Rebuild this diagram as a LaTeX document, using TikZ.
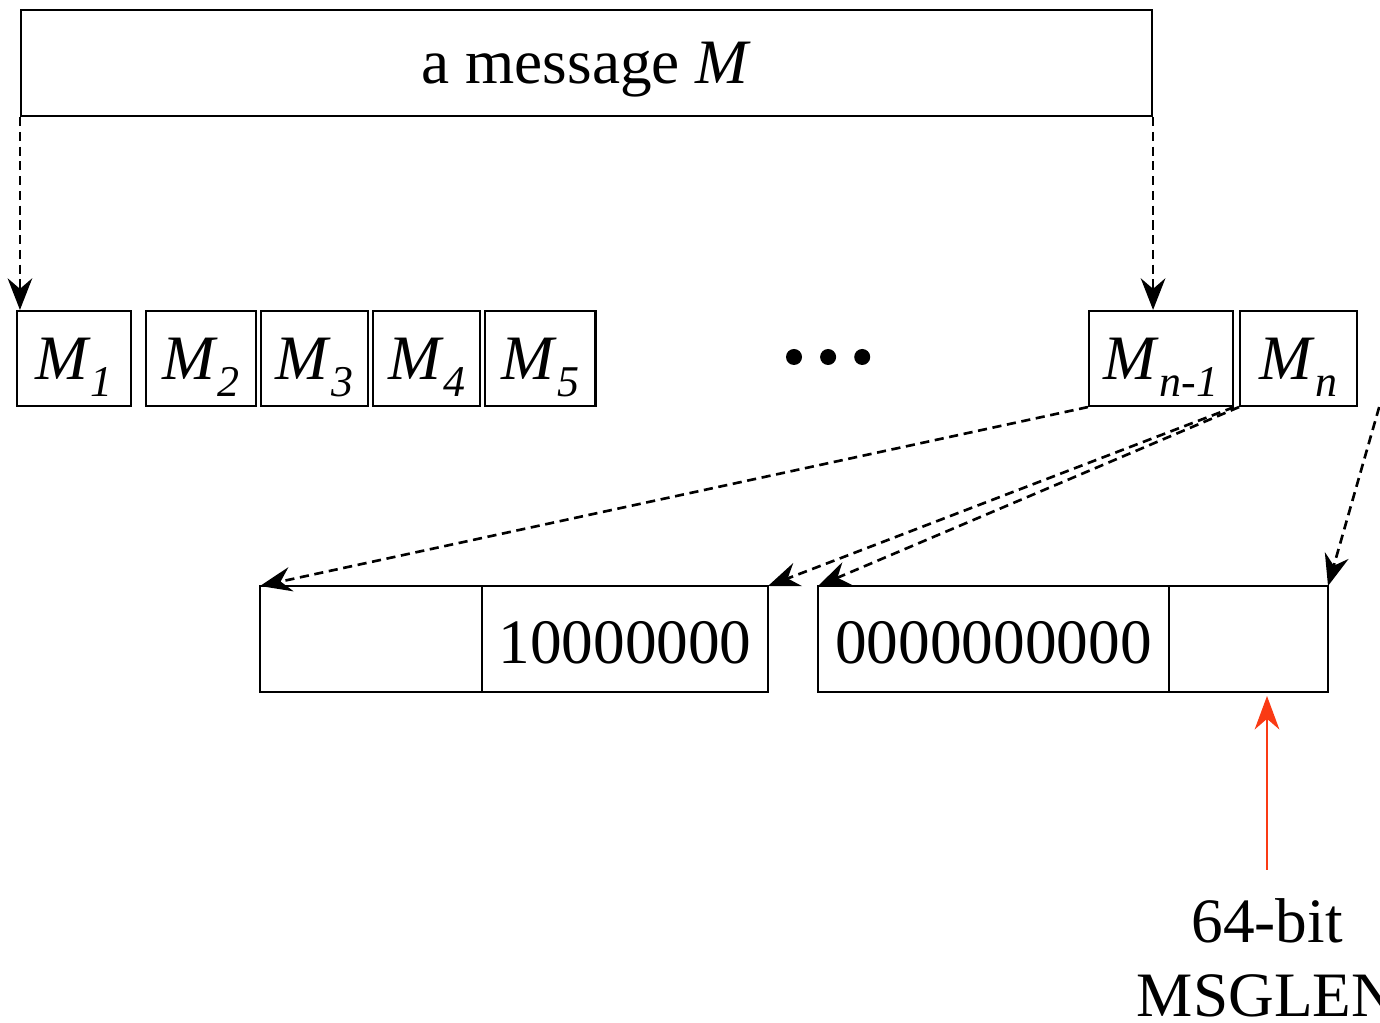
\documentclass[tikz,border=0pt]{standalone}
\usepackage{fontspec}
\setmainfont{Liberation Serif}
\usetikzlibrary{positioning, arrows.meta}
\definecolor{lenred}{RGB}{250,58,20}
\newcommand\Mpart[1]{\textit{M}\raisebox{-0.28em}{\fontsize{12.5}{12.5}\selectfont\itshape #1}}

\begin{document}
\begin{tikzpicture}[font=\fontsize{18}{21}\selectfont, line width=0.6pt]
        \tikzstyle{block} = [rectangle, draw, inner sep=0pt, text depth=0pt]
        \tikzstyle{mbox} = [block, minimum height=0.95cm]
        \tikzstyle{bbox} = [block, minimum height=1.06cm, outer sep=0pt, text height=0.5cm]
        \tikzstyle{dot} = [circle, fill, inner sep=0pt, minimum size=1.6mm]
        \tikzstyle{line} = [line width=0.75pt, dash pattern=on 2.6pt off 1.6pt, -{Stealth[length=9pt, width=7pt, inset=3pt]}]
        \tikzstyle{lenline} = [lenred, line width=0.75pt, -{Stealth[length=9.5pt, width=7pt, inset=3pt]}]
        \useasboundingbox (0,0) rectangle (13.8,-10.23);

        \node (msg) [block, minimum width=11.31cm, minimum height=1.06cm] at (5.865,-0.63) {a message \textit{M}};
        \node (M1) [mbox, minimum width=1.14cm] at (0.74,-3.585) {\Mpart{1}};
        \node [right=1.3mm of M1] (M2) [mbox, minimum width=1.10cm] {\Mpart{2}};
        \node [right=0.3mm of M2] (M3) [mbox, minimum width=1.07cm] {\Mpart{3}};
        \node [right=0.3mm of M3] (M4) [mbox, minimum width=1.07cm] {\Mpart{4}};
        \node [right=0.3mm of M4] (M5) [mbox, minimum width=1.10cm] {\Mpart{5}};
        \node (dot1) [dot] at (7.94,-3.57) {};
        \node [right=1.6mm of dot1] (dot2) [dot] {};
        \node [right=1.6mm of dot2] (dot3) [dot] {};
        \node (Mnm) [mbox, minimum width=1.44cm] at (11.61,-3.585) {\Mpart{n-1}};
        \node [right=0.5mm of Mnm] (Mn) [mbox, minimum width=1.17cm] {\Mpart{n}};
        \coordinate [right=2.1mm of Mn.south east] (side);

        \node (pad) [bbox, minimum width=2.22cm] at (3.71,-6.39) {};
        \node [right=0pt of pad] (one) [bbox, minimum width=2.86cm] {10000000};
        \node [right=5mm of one] (zeros) [bbox, minimum width=3.51cm] {0000000000};
        \node [right=0pt of zeros] (len) [bbox, minimum width=1.59cm] {};
        \node (lbl) [align=center, anchor=north, inner xsep=0pt, inner ysep=2.8mm] at (12.67,-8.70) {64-bit\\MSGLEN};

        \draw [line] (msg.south west) -- (msg.south west |- M1.north);
        \draw [line] (msg.south east) -- (msg.south east |- Mnm.north);
        \draw [line] (Mnm.south west) -- (pad.north west);
        \draw [line] (Mnm.south east) -- (one.north east);
        \draw [line] (Mn.south west) -- (zeros.north west);
        \draw [line] (side) -- (len.north east);
        \draw [lenline, shorten >=0.4mm] (lbl.north) -- (lbl.north |- len.south);
    \end{tikzpicture}
\end{document}
